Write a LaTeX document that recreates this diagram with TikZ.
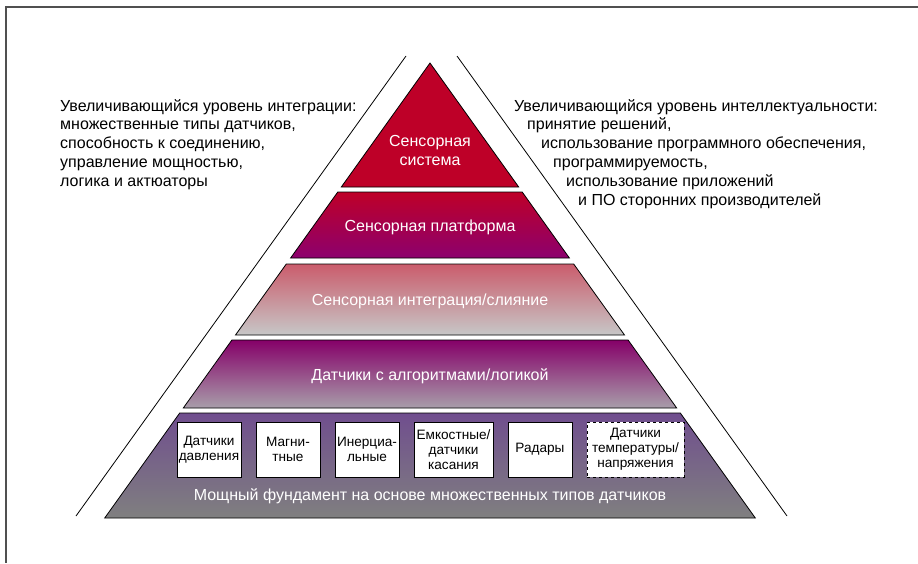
\documentclass[tikz,border=0pt]{standalone}
\usepackage{fontspec}
\setmainfont{Liberation Sans}
\definecolor{crimson}{RGB}{190,0,40}
\definecolor{plum}{RGB}{140,0,110}
\definecolor{rose}{RGB}{202,92,108}
\definecolor{violet}{RGB}{112,78,142}
\definecolor{mauvegray}{RGB}{168,158,170}
\definecolor{framegray}{RGB}{80,80,80}
\begin{document}
\begin{tikzpicture}[x=1pt,y=-1pt,
    level/.style={draw=black, line width=0.8pt},
    lvltext/.style={text=white, font=\fontsize{16}{19}\selectfont, align=center},
    sensor/.style={rectangle, draw, fill=white, line width=0.8pt, minimum height=55pt, inner sep=1pt, align=center, font=\fontsize{13.6}{15}\selectfont},
    note/.style={font=\fontsize{16}{18.8}\selectfont, align=left, anchor=north west, inner sep=0pt}]
    \useasboundingbox (0,0) rectangle (918,563);

    % Rahmen
    \draw[line width=2pt, framegray] (918,7) -- (6,7) -- (6,563);

    % Leitlinien
    \draw[line width=0.8pt] (406,56) -- (76,516);
    \draw[line width=0.8pt] (457,56) -- (787,516);

    % Ebenen der Pyramide
    \fill[crimson] (430,63) -- (518.7,187) -- (341.3,187) -- cycle;
    \draw[level] (430,63) -- (518.7,187) -- (341.3,187) -- cycle;
    \shadedraw[level, top color=crimson, bottom color=plum] (337.8,192) -- (522.2,192) -- (569.4,258) -- (290.6,258) -- cycle;
    \shadedraw[level, top color=rose, bottom color=black!22] (286.3,264) -- (573.7,264) -- (624.5,335) -- (235.5,335) -- cycle;
    \shadedraw[level, top color=plum!95!black, bottom color=mauvegray] (231.9,340) -- (628.1,340) -- (676.7,408) -- (183.3,408) -- cycle;
    \shadedraw[level, top color=violet, bottom color=black!50] (179.7,413) -- (680.3,413) -- (755.3,518) -- (104.7,518) -- cycle;

    % Beschriftungen
    \node[lvltext] (system) at (430,150) {Сенсорная\\система};
    \node[lvltext] (platform) at (430,227) {Сенсорная платформа};
    \node[lvltext] (fusion) at (430,301) {Сенсорная интеграция/слияние};
    \node[lvltext] (logic) at (430,376) {Датчики с алгоритмами/логикой};
    \node[lvltext] (base) at (430,496) {Мощный фундамент на основе множественных типов датчиков};

    % Sensortypen
    \node[sensor, minimum width=64pt] (pressure) at (209,449.5) {Датчики\\давления};
    \node[sensor, minimum width=64pt] (magnetic) at (288,449.5) {Магни-\\тные};
    \node[sensor, minimum width=64pt] (inertial) at (367,449.5) {Инерциа-\\льные};
    \node[sensor, minimum width=79pt] (touch) at (453.5,449.5) {Емкостные/\\датчики\\касания};
    \node[sensor, minimum width=64pt] (radar) at (540,449.5) {Радары};
    \node[sensor, dashed, minimum width=97pt] (temp) at (635.5,449.5) {Датчики\\температуры/\\напряжения};

    % Texte links und rechts
    \node[note] (integration) at (60,99) {Увеличивающийся уровень интеграции:\\
        множественные типы датчиков,\\
        способность к соединению,\\
        управление мощностью,\\
        логика и актюаторы};
    \node[note] (intelligence) at (514,99) {Увеличивающийся уровень интеллектуальности:\\
        \hspace*{13pt}принятие решений,\\
        \hspace*{27pt}использование программного обеспечения,\\
        \hspace*{39pt}программируемость,\\
        \hspace*{52pt}использование приложений\\
        \hspace*{64pt}и ПО сторонних производителей};
\end{tikzpicture}
\end{document}
